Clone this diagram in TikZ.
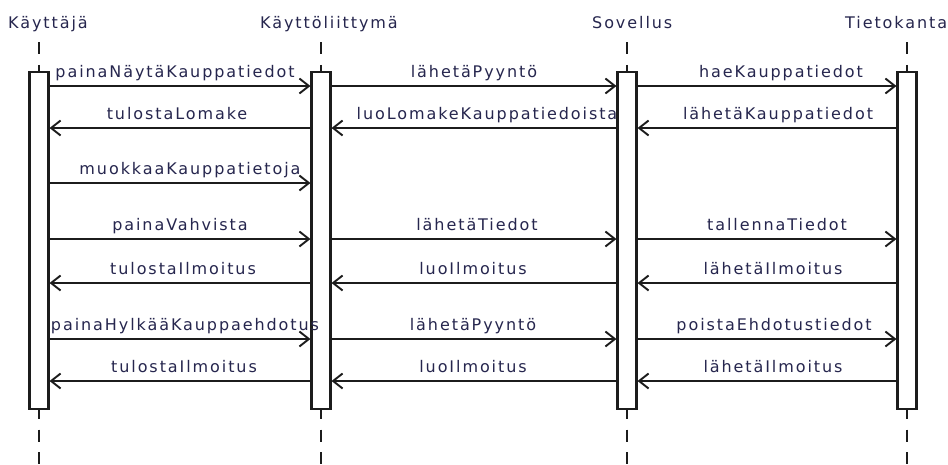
\documentclass[tikz,border=0pt]{standalone}
\usepackage{fontspec}
\usetikzlibrary{arrows.meta}
\newfontfamily\lblfont[LetterSpace=12]{DejaVu Sans}
\definecolor{txt}{RGB}{38,38,78}
\definecolor{ln}{RGB}{28,28,28}
\tikzset{
  actbox/.style={draw=ln, line width=2.1pt, fill=white, minimum width=19pt, minimum height=337pt, inner sep=0pt},
  lifeline/.style={draw=ln, line width=1.6pt, dash pattern=on 12pt off 10.8pt},
  msg/.style={draw=ln, line width=2.1pt, -{Straight Barb[length=9.5pt,width=15pt,line width=1.9pt]}},
  lbl/.style={anchor=base, inner sep=0pt, text=txt, font=\lblfont\fontsize{16}{19}\selectfont, yshift=9pt},
  head/.style={anchor=base west, inner sep=0pt, text=txt, font=\lblfont\fontsize{16}{19}\selectfont}
}
\begin{document}
\begin{tikzpicture}[x=1pt,y=-1pt]
\useasboundingbox[fill=white] (0,0) rectangle (948,464);
% headers
\node[head] (h0) at (8,28) {Käyttäjä};
\node[head] (h1) at (260,28) {Käyttöliittymä};
\node[head] (h2) at (592,28) {Sovellus};
\node[head] (h3) at (845,28) {Tietokanta};
% lifeline ends
\coordinate (t0) at (39,42); \coordinate (e0) at (39,470);
\coordinate (t1) at (321,42); \coordinate (e1) at (321,470);
\coordinate (t2) at (627,42); \coordinate (e2) at (627,470);
\coordinate (t3) at (907,42); \coordinate (e3) at (907,470);
\draw[lifeline] (t0) -- (e0);
\draw[lifeline] (t1) -- (e1);
\draw[lifeline] (t2) -- (e2);
\draw[lifeline] (t3) -- (e3);
% activation boxes
\node[actbox] (b0) at (39,240.5) {};
\node[actbox] (b1) at (321,240.5) {};
\node[actbox] (b2) at (627,240.5) {};
\node[actbox] (b3) at (907,240.5) {};
% rows
\coordinate (r1) at (0,86);
\coordinate (r2) at (0,128);
\coordinate (r3) at (0,183);
\coordinate (r4) at (0,239);
\coordinate (r5) at (0,283);
\coordinate (r6) at (0,339);
\coordinate (r7) at (0,381);
% row 1
\draw[msg] (b0.east |- r1) -- node[lbl, xshift=-5pt] {painaNäytäKauppatiedot} (b1.west |- r1);
\draw[msg] (b1.east |- r1) -- node[lbl] {lähetäPyyntö} (b2.west |- r1);
\draw[msg] (b2.east |- r1) -- node[lbl, xshift=14pt] {haeKauppatiedot} (b3.west |- r1);
% row 2
\draw[msg] (b1.west |- r2) -- node[lbl, xshift=-3pt] {tulostaLomake} (b0.east |- r2);
\draw[msg] (b2.west |- r2) -- node[lbl, xshift=13pt] {luoLomakeKauppatiedoista} (b1.east |- r2);
\draw[msg] (b3.west |- r2) -- node[lbl, xshift=11pt] {lähetäKauppatiedot} (b2.east |- r2);
% row 3
\draw[msg] (b0.east |- r3) -- node[lbl, xshift=10pt] {muokkaaKauppatietoja} (b1.west |- r3);
% row 4
\draw[msg] (b0.east |- r4) -- node[lbl] {painaVahvista} (b1.west |- r4);
\draw[msg] (b1.east |- r4) -- node[lbl, xshift=3pt] {lähetäTiedot} (b2.west |- r4);
\draw[msg] (b2.east |- r4) -- node[lbl, xshift=10pt] {tallennaTiedot} (b3.west |- r4);
% row 5
\draw[msg] (b1.west |- r5) -- node[lbl, xshift=3pt] {tulostaIlmoitus} (b0.east |- r5);
\draw[msg] (b2.west |- r5) -- node[lbl, xshift=-1pt] {luoIlmoitus} (b1.east |- r5);
\draw[msg] (b3.west |- r5) -- node[lbl, xshift=6pt] {lähetäIlmoitus} (b2.east |- r5);
% row 6
\draw[msg] (b0.east |- r6) -- node[lbl, xshift=5pt] {painaHylkääKauppaehdotus} (b1.west |- r6);
\draw[msg] (b1.east |- r6) -- node[lbl, xshift=-1pt] {lähetäPyyntö} (b2.west |- r6);
\draw[msg] (b2.east |- r6) -- node[lbl, xshift=7pt] {poistaEhdotustiedot} (b3.west |- r6);
% row 7
\draw[msg] (b1.west |- r7) -- node[lbl, xshift=4pt] {tulostaIlmoitus} (b0.east |- r7);
\draw[msg] (b2.west |- r7) -- node[lbl, xshift=-1pt] {luoIlmoitus} (b1.east |- r7);
\draw[msg] (b3.west |- r7) -- node[lbl, xshift=6pt] {lähetäIlmoitus} (b2.east |- r7);
\end{tikzpicture}
\end{document}
